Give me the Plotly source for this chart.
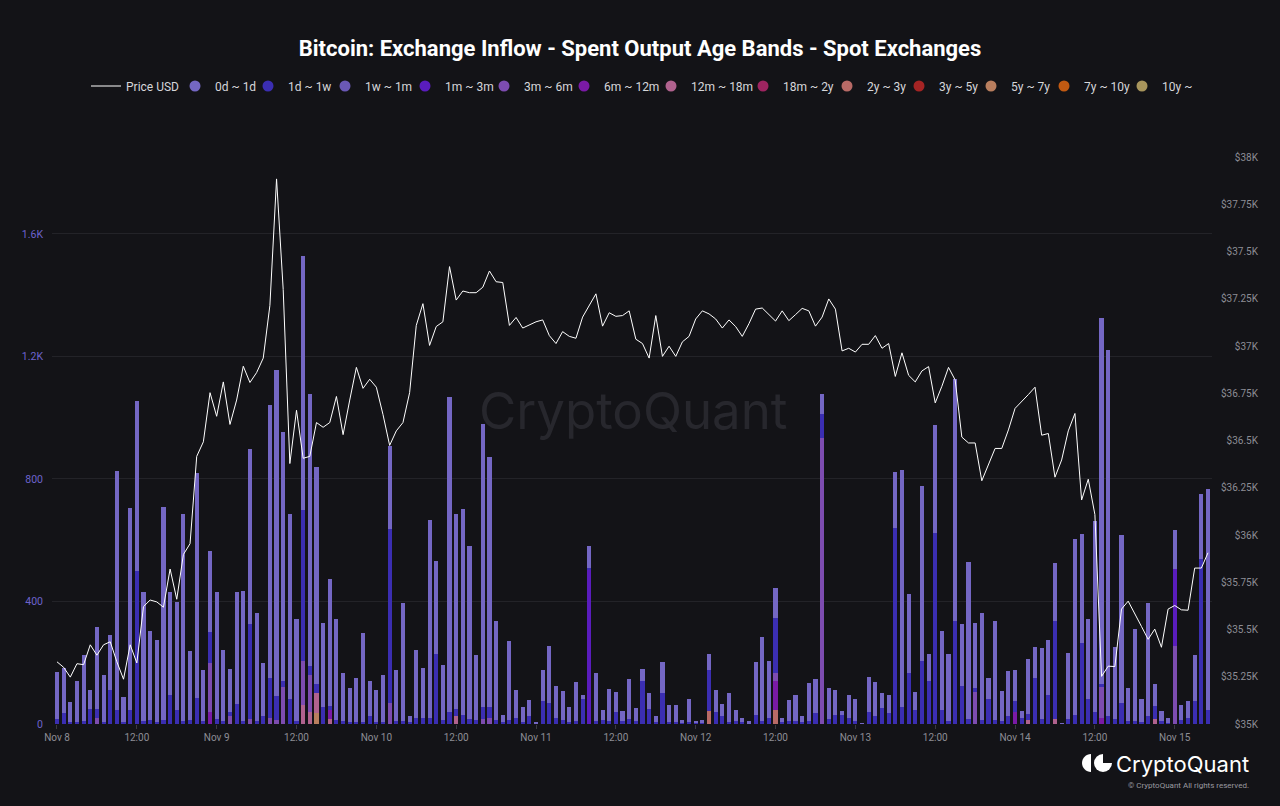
import pandas as pd
import plotly.graph_objects as go

# ---------------- data (hourly, starting 2023-11-08 00:00 UTC) ----------------
start = "2023-11-08 00:00"

inflow_0d_1d = [
    154, 148, 66, 134, 216, 62, 266, 153, 182, 781,
    81, 659, 553, 422, 290, 265, 695, 337, 354, 674,
    226, 735, 167, 264, 417, 230, 141, 367, 424, 574,
    354, 173, 891, 1063, 814, 606, 332, 828, 887, 710,
    276, 414, 331, 156, 108, 143, 292, 115, 104, 152,
    274, 167, 384, 17, 223, 163, 646, 302, 181, 1028,
    637, 672, 565, 214, 925, 818, 325, 26, 258, 92,
    49, 53, 4, 102, 186, 104, 96, 46, 126, 16,
    71, 157, 35, 104, 66, 31, 131, 41, 39, 52,
    20, 101, 55, 55, 9, 72, 7, 9, 53, 72,
    41, 92, 37, 14, 6, 171, 275, 187, 98, 16,
    67, 86, 20, 124, 111, 65, 104, 80, 11, 76,
    70, 2, 114, 112, 47, 60, 183, 775, 259, 59,
    573, 88, 351, 257, 218, 790, 200, 515, 212, 349,
    71, 323, 98, 147, 100, 21, 181, 102, 233, 178,
    191, 1, 217, 573, 354, 263, 622, 1196, 1195, 237,
    546, 106, 301, 72, 369, 71, 33, 18, 128, 51,
    55, 151, 212, 722,
]

inflow_1d_1w = [
    15, 35, 5, 8, 10, 50, 30, 8, 110, 45,
    8, 45, 500, 10, 12, 8, 12, 95, 45, 10,
    12, 85, 10, 100, 15, 10, 15, 65, 10, 310,
    10, 25, 130, 80, 20, 80, 10, 494, 30, 30,
    55, 15, 12, 10, 8, 8, 5, 25, 8, 8,
    565, 10, 10, 8, 20, 20, 20, 230, 12, 40,
    25, 30, 15, 12, 40, 35, 12, 5, 12, 20,
    8, 25, 2, 75, 70, 20, 12, 8, 10, 80,
    5, 10, 12, 10, 40, 10, 15, 10, 140, 50,
    5, 100, 8, 8, 3, 8, 2, 3, 134, 40,
    25, 8, 10, 5, 3, 30, 10, 20, 180, 5,
    10, 10, 5, 10, 35, 79, 15, 30, 30, 20,
    10, 1, 40, 25, 53, 35, 640, 55, 165, 45,
    205, 140, 625, 45, 10, 335, 125, 15, 15, 12,
    80, 12, 10, 25, 35, 20, 20, 150, 15, 95,
    320, 1, 15, 30, 265, 80, 40, 10, 25, 15,
    70, 10, 10, 8, 25, 45, 10, 3, 0, 12,
    20, 75, 540, 45,
]

# sparse bands: {hour index: value}
inflow_1w_1m = {}
inflow_1m_3m = {80: 505, 168: 252}
inflow_3m_6m = {6: 20, 23: 160, 26: 25, 29: 15, 32: 20, 33: 12, 34: 120, 37: 142,
                38: 120, 50: 70, 64: 15, 65: 20, 108: 25, 115: 933, 138: 104,
                157: 100, 168: 254}
inflow_6m_12m = {23: 40, 41: 30, 108: 95, 144: 40, 157: 20}
inflow_12m_18m = {37: 63, 38: 40, 39: 65, 41: 15, 60: 25, 146: 12, 150: 15, 165: 15}
inflow_18m_2y = {}
inflow_2y_3y = {98: 41, 108: 45}
inflow_3y_5y = {}
inflow_5y_7y = {39: 35}
inflow_7y_10y = {}
inflow_10y = {}

price_usd = [
    35329, 35300, 35248, 35319, 35314, 35419, 35364, 35419, 35435, 35329,
    35237, 35419, 35323, 35621, 35656, 35646, 35618, 35820, 35660, 35897,
    35954, 36416, 36493, 36753, 36628, 36810, 36585, 36714, 36893, 36807,
    36859, 36936, 37215, 37884, 37299, 36378, 36660, 36406, 36416, 36595,
    36570, 36595, 36733, 36531, 36714, 36887, 36776, 36824, 36782, 36637,
    36474, 36551, 36595, 36753, 37109, 37224, 37003, 37103, 37128, 37420,
    37243, 37291, 37282, 37282, 37311, 37397, 37340, 37336, 37109, 37151,
    37095, 37113, 37128, 37138, 37055, 37013, 37076, 37051, 37041, 37153,
    37215, 37276, 37105, 37176, 37157, 37161, 37186, 37036, 37013, 36936,
    37161, 36945, 36999, 36945, 37022, 37051, 37143, 37186, 37170, 37143,
    37095, 37138, 37103, 37051, 37118, 37195, 37201, 37166, 37132, 37186,
    37134, 37166, 37199, 37186, 37105, 37153, 37249, 37195, 36974, 36988,
    36968, 37009, 37009, 37055, 36988, 37013, 36839, 36964, 36845, 36810,
    36868, 36891, 36699, 36787, 36887, 36820, 36518, 36487, 36487, 36287,
    36372, 36458, 36458, 36556, 36670, 36705, 36743, 36782, 36528, 36537,
    36306, 36397, 36551, 36643, 36185, 36295, 36108, 35252, 35306, 35304,
    35608, 35650, 35579, 35516, 35448, 35502, 35406, 35608, 35627, 35604,
    35602, 35825, 35825, 35906,
]

band_names = ["0d ~ 1d", "1d ~ 1w", "1w ~ 1m", "1m ~ 3m", "3m ~ 6m", "6m ~ 12m",
              "12m ~ 18m", "18m ~ 2y", "2y ~ 3y", "3y ~ 5y", "5y ~ 7y", "7y ~ 10y", "10y ~"]
band_colors = ["#7467c4", "#3b2eb2", "#6a58b6", "#5a1cbd", "#7d4cb0", "#7a1aa6",
               "#b0628e", "#9e2460", "#b86a66", "#a52424", "#b97e5e", "#c25a12", "#a8955c"]

tick_text = ["Nov 8", "12:00", "Nov 9", "12:00", "Nov 10", "12:00", "Nov 11", "12:00",
             "Nov 12", "12:00", "Nov 13", "12:00", "Nov 14", "12:00", "Nov 15"]
left_ticks = [0, 400, 800, 1200, 1600]
left_tick_text = ["0", "400", "800", "1.2K", "1.6K"]
right_ticks = [35000, 35250, 35500, 35750, 36000, 36250, 36500, 36750, 37000, 37250, 37500, 37750, 38000]
right_tick_text = ["$35K", "$35.25K", "$35.5K", "$35.75K", "$36K", "$36.25K", "$36.5K",
                   "$36.75K", "$37K", "$37.25K", "$37.5K", "$37.75K", "$38K"]

# ---------------- build ----------------
n = len(inflow_0d_1d)
times = pd.date_range(start, periods=n, freq="h")
tick_vals = pd.date_range(start, periods=len(tick_text), freq="12h")


def dense(sparse):
    return [sparse.get(i, 0) for i in range(n)]


band_values = [inflow_0d_1d, inflow_1d_1w, dense(inflow_1w_1m), dense(inflow_1m_3m),
               dense(inflow_3m_6m), dense(inflow_6m_12m), dense(inflow_12m_18m),
               dense(inflow_18m_2y), dense(inflow_2y_3y), dense(inflow_3y_5y),
               dense(inflow_5y_7y), dense(inflow_7y_10y), dense(inflow_10y)]

# legend entry widths (px) so the single-row legend spacing matches
legend_widths = [28, 32, 35, 34, 35, 42, 47, 39, 27, 27, 28, 33, 32]

BG = "#131317"
fig = go.Figure()

# legend entries (circle markers) in display order
fig.add_trace(go.Scatter(x=[None], y=[None], mode="lines", name="Price USD",
                         line=dict(color="#ffffff", width=1), showlegend=True, legendwidth=44))
for name, col, lw in zip(band_names, band_colors, legend_widths):
    fig.add_trace(go.Scatter(x=[None], y=[None], mode="markers", name=name,
                             marker=dict(symbol="circle", size=11, color=col),
                             showlegend=True, legendwidth=lw))

# stacked bars: oldest band at the bottom, 0d ~ 1d on top
for name, col, vals in reversed(list(zip(band_names, band_colors, band_values))):
    fig.add_trace(go.Bar(x=times, y=vals, name=name, marker=dict(color=col, line=dict(width=0)),
                         showlegend=False, yaxis="y"))

fig.add_trace(go.Scatter(x=times, y=price_usd, mode="lines", name="Price USD",
                         line=dict(color="#ffffff", width=1), yaxis="y2", showlegend=False))

W, H = 1280, 806
ml, mr, mt, mb = 52, 18, 157, 82
PW = W - ml - mr
PH = H - mt - mb
x_dom_end = (1212 - ml) / PW

fig.update_layout(
    width=W, height=H,
    paper_bgcolor=BG, plot_bgcolor=BG,
    margin=dict(l=ml, r=mr, t=mt, b=mb),
    barmode="stack", bargap=0.38,
    font=dict(family="Roboto, Arial, sans-serif", color="#cfcfd4"),
    title=dict(text="<b>Bitcoin: Exchange Inflow - Spent Output Age Bands - Spot Exchanges</b>",
               x=0.5, xanchor="center", y=1 - 48 / H, yanchor="middle", automargin=False,
               font=dict(size=22, color="#ffffff", family="Roboto, Arial, sans-serif")),
    legend=dict(orientation="h", x=(86 - ml) / PW, xanchor="left", y=1 + (mt - 86) / PH,
                yanchor="middle", font=dict(size=12, color="#d6d6da"), traceorder="normal",
                bgcolor="rgba(0,0,0,0)", itemclick=False, tracegroupgap=0),
    xaxis=dict(type="date", domain=[0, x_dom_end], automargin=False,
               range=[pd.Timestamp(start) - pd.Timedelta(minutes=45),
                      pd.Timestamp(start) + pd.Timedelta(hours=173, minutes=36)],
               tickvals=tick_vals, ticktext=tick_text, showgrid=False, zeroline=False,
               ticks="outside", ticklen=4, tickcolor="#3a3a40", showline=False,
               tickfont=dict(size=10, color="#8d8d95")),
    yaxis=dict(range=[0, 1851], tickvals=left_ticks, ticktext=left_tick_text, automargin=False,
               showgrid=True, gridcolor="#232328", gridwidth=1, zeroline=False,
               ticklabelstandoff=8,
               tickfont=dict(size=10.5, color="#6d63cc"), ticks=""),
    yaxis2=dict(range=[35000, 38000], overlaying="y", side="left", anchor="free",
                position=(1258 - ml) / PW, automargin=False,
                tickvals=right_ticks, ticktext=right_tick_text, showgrid=False, zeroline=False,
                tickfont=dict(size=10, color="#8d8d95"), ticks=""),
)

# watermark
fig.add_annotation(text="CryptoQuant", x=(633 - ml) / PW, y=(724 - 410) / PH,
                   xref="paper", yref="paper", showarrow=False,
                   font=dict(size=51, color="#27272d", family="Inter, Roboto, sans-serif"))
# brand logo bottom-right
fig.add_annotation(text="CryptoQuant", x=(1182 - ml) / PW, y=(724 - 764) / PH,
                   xref="paper", yref="paper", showarrow=False, xanchor="center", yanchor="middle",
                   font=dict(size=22, color="#ffffff", family="Inter, Roboto, sans-serif"))
fig.add_annotation(text="© CryptoQuant All rights reserved.", x=(1188 - ml) / PW,
                   y=(724 - 785) / PH, xref="paper", yref="paper", showarrow=False,
                   xanchor="center", yanchor="middle",
                   font=dict(size=8, color="#9a9aa0", family="Roboto, sans-serif"))
ax = (1097 - ml) / PW
ay = (724 - 763) / PH
k = 4.97
fig.add_shape(type="path", xref="paper", yref="paper", xsizemode="pixel", ysizemode="pixel",
              xanchor=ax, yanchor=ay,
              path=f"M -6,9 C {-6 - k},9 -15,{k} -15,0 C -15,{-k} {-6 - k},-9 -6,-9 Z",
              fillcolor="#ffffff", line=dict(width=0))
fig.add_shape(type="circle", xref="paper", yref="paper", xsizemode="pixel", ysizemode="pixel",
              xanchor=ax, yanchor=ay, x0=-3, x1=15, y0=-9, y1=9,
              fillcolor="#ffffff", line=dict(width=0))
fig.add_shape(type="path", xref="paper", yref="paper", xsizemode="pixel", ysizemode="pixel",
              xanchor=ax, yanchor=ay,
              path="M 6,0 L 15,0 L 15,9 L 6,9 Z", fillcolor=BG, line=dict(width=0))

fig.write_html("out.html", config={"displayModeBar": False},
               post_script="document.body.style.margin='0';")
